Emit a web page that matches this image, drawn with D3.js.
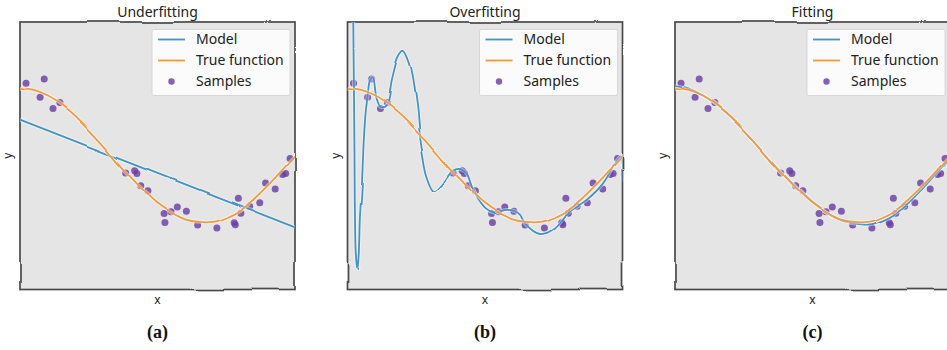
<!DOCTYPE html>
<html>
<head>
<meta charset="utf-8">
<script src="https://cdn.jsdelivr.net/npm/d3@7"></script>
<style>
  body { margin: 0; background: #fff; }
  svg { display: block; }
  .hand { font-family: "Comic Sans MS", "Noto Sans", sans-serif; fill: #222; }
  .caption { font-family: "Liberation Serif", "DejaVu Serif", serif; font-weight: bold; fill: #111; }
</style>
</head>
<body>
<svg id="chart" width="947" height="350"></svg>
<script>
// Panel titles and captions
const panelTitles = ["Underfitting", "Overfitting", "Fitting"];
const panelCaptions = ["(a)", "(b)", "(c)"];
const legendLabels = ["Model", "True function", "Samples"];

// Noisy samples of the true function
const sampleX = [0.022, 0.073, 0.088, 0.120, 0.145, 0.384, 0.417, 0.425, 0.439, 0.465,
                 0.524, 0.527, 0.549, 0.572, 0.605, 0.646, 0.716, 0.779, 0.783, 0.794,
                 0.803, 0.835, 0.872, 0.893, 0.928, 0.955, 0.966, 0.982];
const sampleY = [1.085, 0.876, 1.149, 0.706, 0.796, -0.258, -0.224, -0.264, -0.448, -0.522,
                 -0.863, -0.997, -0.836, -0.766, -0.831, -1.034, -1.079, -1.000, -1.030, -0.637,
                 -0.861, -0.757, -0.701, -0.407, -0.497, -0.279, -0.264, -0.040];

// True function on a regular grid
const gridX = [0, 0.05, 0.1, 0.15, 0.2, 0.25, 0.3, 0.35, 0.4, 0.45, 0.5,
               0.55, 0.6, 0.65, 0.7, 0.75, 0.8, 0.85, 0.9, 0.95, 1.0];
const trueY = [1.00, 0.97, 0.89, 0.76, 0.59, 0.38, 0.16, -0.08, -0.31, -0.52, -0.71,
               -0.85, -0.95, -0.99, -0.99, -0.92, -0.81, -0.65, -0.45, -0.23, 0.00];

// Degree 1 model
const underfitX = [0, 1];
const underfitY = [0.54, -1.07];

// Degree 15 model
const overfitX = [0.015, 0.021, 0.025, 0.030, 0.036, 0.041, 0.045, 0.052, 0.057, 0.064,
                  0.073, 0.082, 0.092, 0.106, 0.122, 0.143, 0.161, 0.185, 0.203, 0.227,
                  0.252, 0.264, 0.275, 0.290, 0.318, 0.348, 0.385, 0.415, 0.433, 0.452,
                  0.476, 0.506, 0.530, 0.555, 0.579, 0.609, 0.627, 0.645, 0.700, 0.748,
                  0.797, 0.870, 0.930, 0.979, 0.991, 1.000];
const overfitY = [3.20, 2.00, 0.24, -1.45, -1.70, -1.45, -0.95, -0.46, 0.05, 0.54,
                  0.88, 1.12, 1.17, 0.84, 0.71, 0.76, 1.13, 1.48, 1.57, 1.38,
                  0.79, 0.29, 0.00, -0.30, -0.53, -0.43, -0.23, -0.20, -0.26, -0.46,
                  -0.66, -0.81, -0.86, -0.83, -0.81, -0.83, -0.88, -1.01, -1.17, -1.10,
                  -0.86, -0.66, -0.41, -0.06, -0.01, -0.38];

// Degree 4 model
const fitX = gridX;
const fitY = [1.04, 0.99, 0.89, 0.75, 0.58, 0.38, 0.16, -0.07, -0.30, -0.51, -0.70,
              -0.85, -0.96, -1.01, -1.03, -0.97, -0.86, -0.70, -0.49, -0.26, -0.03];

const modelSeries = [
  { x: underfitX, y: underfitY },
  { x: overfitX, y: overfitY },
  { x: fitX, y: fitY }
];

const W = 947, H = 350;
const colors = { model: "#4393c8", truth: "#f49a3e", sample: "#6a3ea3", frame: "#4a4a4a", bg: "#e5e5e5" };

const svg = d3.select("#chart");
svg.append("rect").attr("width", W).attr("height", H).attr("fill", "#fff");

// Hand-drawn wobble for the frames and curves
const defs = svg.append("defs");
const sketch = defs.append("filter")
  .attr("id", "sketch")
  .attr("filterUnits", "userSpaceOnUse")
  .attr("x", -20).attr("y", -20).attr("width", W + 40).attr("height", H + 40);
sketch.append("feTurbulence")
  .attr("type", "fractalNoise").attr("baseFrequency", 0.018)
  .attr("numOctaves", 1).attr("seed", 5).attr("result", "noise");
sketch.append("feDisplacementMap")
  .attr("in", "SourceGraphic").attr("in2", "noise").attr("scale", 4)
  .attr("xChannelSelector", "R").attr("yChannelSelector", "G");

const panelW = 275, panelH = 267.5, panelTop = 22, panelStep = 327.5, panelLeft = 20;

panelTitles.forEach((title, i) => {
  const x0 = panelLeft + i * panelStep;
  const g = svg.append("g").attr("transform", `translate(${x0},${panelTop})`);

  const x = d3.scaleLinear().domain([0, 1]).range([0, panelW]);
  const y = d3.scaleLinear().domain([-2, 2]).range([panelH, 0]);

  const clipId = `clip-${i}`;
  defs.append("clipPath").attr("id", clipId)
    .append("rect").attr("x", x0).attr("y", panelTop).attr("width", panelW).attr("height", panelH);

  g.append("rect")
    .attr("width", panelW).attr("height", panelH)
    .attr("fill", colors.bg);

  const line = d3.line()
    .x(d => x(d[0])).y(d => y(d[1]))
    .curve(d3.curveCatmullRom.alpha(0.5));

  const m = modelSeries[i];
  const modelPts = d3.zip(m.x, m.y);
  const truePts = d3.zip(gridX, trueY);

  // curves, clipped to the plot area
  const clipG = svg.append("g").attr("clip-path", `url(#${clipId})`);
  const curves = clipG.append("g")
    .attr("transform", `translate(${x0},${panelTop})`)
    .attr("filter", "url(#sketch)");

  [[modelPts, colors.model], [truePts, colors.truth]].forEach(([pts, c]) => {
    curves.append("path").datum(pts)
      .attr("d", line).attr("fill", "none")
      .attr("stroke", "#fff").attr("stroke-opacity", 0.45)
      .attr("stroke-width", 3.8).attr("stroke-linejoin", "round");
    curves.append("path").datum(pts)
      .attr("d", line).attr("fill", "none")
      .attr("stroke", c).attr("stroke-width", 1.8)
      .attr("stroke-linejoin", "round").attr("stroke-linecap", "round");
  });

  // samples
  g.append("g").selectAll("circle")
    .data(d3.zip(sampleX, sampleY))
    .join("circle")
    .attr("cx", d => x(d[0])).attr("cy", d => y(d[1]))
    .attr("r", 3.5)
    .attr("fill", colors.sample).attr("fill-opacity", 0.82);

  // legend
  const lg = g.append("g").attr("transform", "translate(132,7.5)");
  lg.append("rect")
    .attr("width", 138).attr("height", 66).attr("rx", 2)
    .attr("fill", "#fff").attr("fill-opacity", 0.85)
    .attr("stroke", "#d0d0d0").attr("stroke-width", 0.8);
  const rowY = [10, 31, 52];
  lg.append("line").attr("x1", 6).attr("x2", 33).attr("y1", rowY[0]).attr("y2", rowY[0])
    .attr("stroke", colors.model).attr("stroke-width", 1.8);
  lg.append("line").attr("x1", 6).attr("x2", 33).attr("y1", rowY[1]).attr("y2", rowY[1])
    .attr("stroke", colors.truth).attr("stroke-width", 1.8);
  lg.append("circle").attr("cx", 19.5).attr("cy", rowY[2]).attr("r", 3.2)
    .attr("fill", colors.sample).attr("fill-opacity", 0.82);
  legendLabels.forEach((t, k) => {
    lg.append("text").attr("class", "hand")
      .attr("x", 44).attr("y", rowY[k]).attr("dy", "0.35em")
      .attr("font-size", 14).text(t);
  });

  // frame
  g.append("rect")
    .attr("width", panelW).attr("height", panelH)
    .attr("fill", "none").attr("stroke", colors.frame).attr("stroke-width", 1.7)
    .attr("filter", "url(#sketch)");

  // title and axis labels
  g.append("text").attr("class", "hand")
    .attr("x", panelW / 2).attr("y", -5)
    .attr("text-anchor", "middle").attr("font-size", 14).text(title);
  g.append("text").attr("class", "hand")
    .attr("x", panelW / 2).attr("y", panelH + 14)
    .attr("text-anchor", "middle").attr("font-size", 12).text("x");
  g.append("text").attr("class", "hand")
    .attr("transform", `translate(-8,${panelH / 2}) rotate(-90)`)
    .attr("text-anchor", "middle").attr("font-size", 12).text("y");

  // caption
  svg.append("text").attr("class", "caption")
    .attr("x", x0 + panelW / 2).attr("y", 338)
    .attr("text-anchor", "middle").attr("font-size", 18).text(panelCaptions[i]);
});
</script>
</body>
</html>
